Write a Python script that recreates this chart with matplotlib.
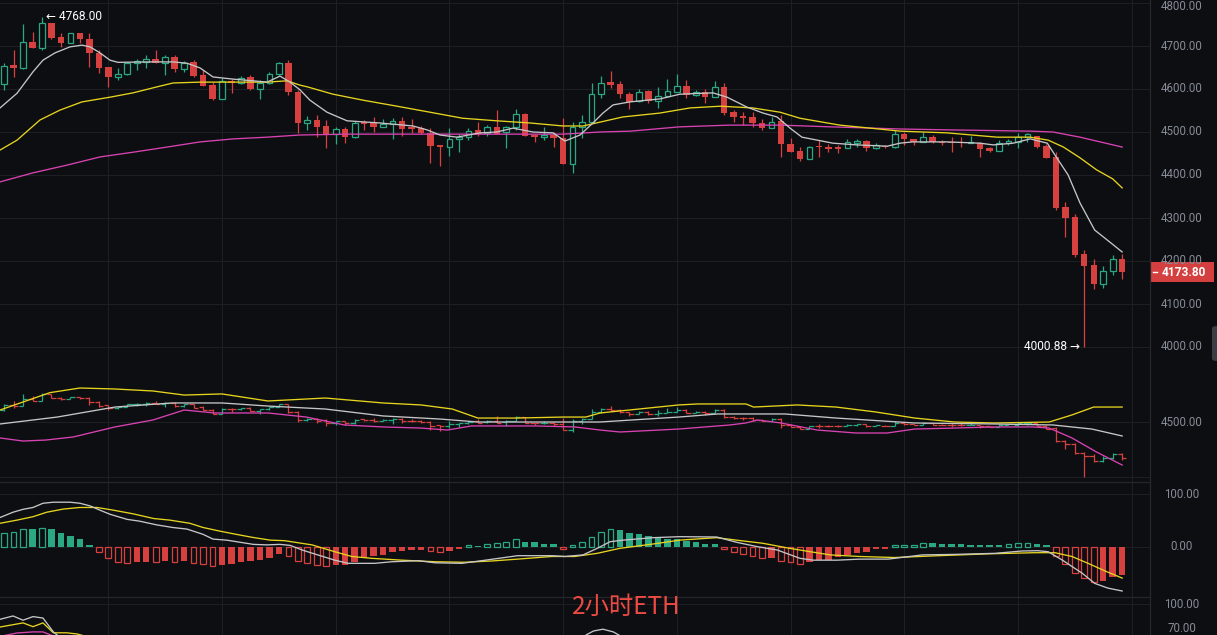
import matplotlib
matplotlib.use('Agg')
import matplotlib.pyplot as plt
from matplotlib.patches import Rectangle, FancyBboxPatch
from matplotlib.lines import Line2D

plt.rcParams['font.family'] = ['Roboto', 'DejaVu Sans']

# ---------------- data ----------------
opens = [4612, 4656, 4649, 4709, 4695, 4753, 4721, 4707, 4730, 4716,
         4684, 4651, 4628, 4635, 4660, 4663, 4670, 4660, 4674, 4647,
         4663, 4633, 4609, 4577, 4619, 4614, 4628, 4600, 4614, 4635,
         4660, 4593, 4521, 4528, 4514, 4495, 4507, 4488, 4523, 4521,
         4512, 4519, 4526, 4512, 4509, 4498, 4470, 4465, 4484, 4488,
         4505, 4498, 4512, 4500, 4512, 4542, 4493, 4488, 4493, 4486,
         4426, 4512, 4523, 4588, 4616, 4612, 4588, 4572, 4595, 4572,
         4584, 4593, 4607, 4586, 4593, 4581, 4605, 4546, 4537, 4535,
         4521, 4509, 4526, 4472, 4456, 4437, 4467, 4465, 4465, 4463,
         4474, 4479, 4463, 4467, 4465, 4495, 4484, 4477, 4488, 4477,
         4477, 4477, 4474, 4474, 4463, 4456, 4474, 4477, 4488, 4491,
         4467, 4442, 4326, 4302, 4216, 4191, 4146, 4177, 4205]
highs = [4660, 4691, 4751, 4733, 4768, 4753, 4730, 4731, 4730, 4730,
         4690, 4651, 4649, 4663, 4670, 4679, 4691, 4679, 4679, 4665,
         4667, 4644, 4616, 4625, 4623, 4630, 4633, 4621, 4640, 4663,
         4667, 4598, 4537, 4540, 4528, 4512, 4512, 4526, 4528, 4535,
         4530, 4533, 4535, 4530, 4514, 4509, 4470, 4509, 4495, 4509,
         4523, 4516, 4551, 4514, 4553, 4544, 4495, 4512, 4500, 4533,
         4523, 4540, 4614, 4630, 4642, 4619, 4593, 4600, 4598, 4605,
         4623, 4635, 4621, 4598, 4600, 4619, 4614, 4551, 4546, 4546,
         4530, 4535, 4540, 4486, 4465, 4467, 4481, 4472, 4470, 4484,
         4484, 4481, 4474, 4470, 4505, 4500, 4484, 4500, 4493, 4481,
         4488, 4488, 4491, 4477, 4465, 4481, 4484, 4497, 4497, 4491,
         4472, 4453, 4337, 4309, 4225, 4205, 4188, 4214, 4216]
lows = [4598, 4628, 4646, 4695, 4691, 4716, 4698, 4707, 4707, 4651,
        4637, 4605, 4621, 4633, 4644, 4649, 4660, 4632, 4640, 4640,
        4628, 4607, 4574, 4577, 4591, 4612, 4598, 4577, 4612, 4633,
        4586, 4498, 4505, 4488, 4463, 4472, 4474, 4486, 4505, 4500,
        4512, 4484, 4491, 4498, 4495, 4428, 4421, 4444, 4454, 4481,
        4491, 4491, 4495, 4463, 4505, 4491, 4477, 4481, 4465, 4426,
        4405, 4486, 4523, 4579, 4602, 4579, 4553, 4570, 4567, 4556,
        4581, 4593, 4579, 4584, 4567, 4581, 4540, 4523, 4516, 4512,
        4505, 4509, 4442, 4454, 4433, 4437, 4442, 4454, 4451, 4463,
        4465, 4456, 4460, 4463, 4463, 4470, 4470, 4477, 4474, 4470,
        4454, 4465, 4474, 4442, 4454, 4456, 4470, 4463, 4477, 4463,
        4440, 4319, 4256, 4209, 4000.88, 4135, 4137, 4167, 4158]
closes = [4653, 4649, 4709, 4695, 4753, 4719, 4707, 4730, 4716, 4684,
          4649, 4628, 4635, 4660, 4665, 4670, 4660, 4674, 4647, 4660,
          4630, 4607, 4577, 4619, 4614, 4626, 4600, 4614, 4635, 4660,
          4593, 4521, 4528, 4512, 4495, 4507, 4488, 4521, 4519, 4512,
          4519, 4526, 4507, 4507, 4498, 4467, 4465, 4484, 4488, 4502,
          4495, 4512, 4495, 4512, 4542, 4491, 4488, 4493, 4486, 4426,
          4512, 4523, 4588, 4614, 4609, 4588, 4570, 4593, 4572, 4584,
          4595, 4607, 4586, 4593, 4581, 4605, 4544, 4535, 4532, 4521,
          4509, 4523, 4472, 4454, 4437, 4465, 4465, 4460, 4460, 4477,
          4479, 4463, 4470, 4465, 4495, 4484, 4477, 4488, 4477, 4474,
          4474, 4474, 4477, 4460, 4456, 4474, 4479, 4488, 4495, 4465,
          4440, 4323, 4300, 4214, 4188, 4146, 4177, 4205, 4173.8]

# moving averages on the main chart (candle index, price)
ma_white_idx = [-0.43, 1.36, 3.05, 4.1, 5.37, 6.96, 8.22, 9.07, 10.12, 11.18, 12.02, 15.4, 17.83,
                19.3, 20.68, 22.05, 24.16, 26.27, 27.75, 29.12, 30.17, 31.23, 32.28, 34.08, 36.2,
                39.67, 43.16, 44.63, 46.0, 47.8, 50.23, 52.0, 53.7, 55.82, 57.93, 59.2, 60.78,
                62.15, 63.2, 64.27, 66.06, 69.23, 71.34, 74.82, 76.3, 78.4, 80.1, 81.57, 82.95,
                84.2, 87.48, 90.0, 93.2, 94.55, 95.9, 99.5, 103.0, 104.4, 106.5, 108.3, 110.1,
                111.1, 112.3, 113.55, 115.1, 116.7, 118.0]
ma_white_val = [4556, 4590, 4640, 4667, 4684, 4698, 4702, 4698, 4684, 4667, 4662, 4663, 4663,
                4660, 4649, 4628, 4623, 4619, 4616, 4630, 4616, 4598, 4574, 4546, 4526,
                4521, 4514, 4505, 4493, 4488, 4498, 4500, 4509, 4500, 4498, 4479, 4493,
                4521, 4544, 4563, 4570, 4577, 4588, 4591, 4581, 4558, 4544, 4535, 4509,
                4488, 4474, 4470, 4467, 4474, 4477, 4477, 4474, 4470, 4474, 4484, 4474,
                4440, 4400, 4335, 4272, 4244, 4221]
ma_yellow_idx = [-0.43, 1.36, 3.79, 5.9, 8.22, 11.18, 13.6, 16.14, 17.83, 20.68, 24.16, 27.75,
                 29.86, 31.23, 32.0, 34.7, 37.88, 41.47, 44.95, 48.4, 52.0, 55.5, 59.0, 61.1,
                 62.9, 65.3, 69.2, 72.4, 75.6, 79.0, 81.9, 84.0, 88.2, 91.4, 94.55, 99.5,
                 104.8, 108.3, 110.2, 111.8, 113.55, 115.3, 117.0, 118.0]
ma_yellow_val = [4458, 4481, 4528, 4551, 4570, 4581, 4591, 4605, 4614, 4616, 4616, 4616,
                 4619, 4609, 4605, 4588, 4574, 4560, 4546, 4532, 4526, 4521, 4514, 4514,
                 4523, 4535, 4544, 4556, 4560, 4556, 4546, 4532, 4516, 4509, 4502, 4498,
                 4488, 4488, 4481, 4465, 4440, 4412, 4391, 4370]
ma_mag_idx = [-0.43, 3.05, 6.64, 10.12, 13.6, 17.2, 20.7, 24.2, 27.75, 31.2, 36.2, 46.7, 53.7,
              59.0, 62.9, 66.1, 71.3, 76.6, 81.9, 87.2, 94.55, 99.5, 108.3, 110.7, 113.55, 118.0]
ma_mag_val = [4384, 4405, 4423, 4442, 4453, 4465, 4477, 4484, 4488, 4493, 4495, 4495, 4495,
              4495, 4500, 4502, 4512, 4516, 4516, 4512, 4507, 4505, 4502, 4500, 4488, 4465]

# band lines of the second pane
bb_up_idx = [-0.43, 4.84, 8.0, 11.7, 15.7, 19.0, 23.0, 27.85, 33.9, 40.0, 44.0, 47.3, 50.0,
             54.1, 59.0, 61.4, 62.9, 71.2, 73.2, 78.3, 79.1, 83.7, 87.8, 92.0, 96.1, 100.3,
             104.5, 110.3, 112.7, 115.0, 118.0]
bb_up_val = [4609, 4767, 4809, 4800, 4782, 4745, 4755, 4691, 4718, 4673, 4655, 4618, 4536,
             4536, 4545, 4545, 4582, 4655, 4664, 4664, 4636, 4655, 4636, 4591, 4536, 4500,
             4491, 4500, 4564, 4636, 4636]
bb_mid_idx = [-0.43, 5.6, 11.7, 17.7, 23.0, 27.85, 33.9, 40.0, 46.0, 50.0, 56.1, 62.9, 71.2,
              75.3, 82.4, 87.8, 96.1, 104.5, 110.7, 114.8, 118.0]
bb_mid_val = [4482, 4545, 4636, 4673, 4673, 4645, 4618, 4555, 4527, 4500, 4500, 4500, 4545,
              4573, 4573, 4536, 4491, 4482, 4473, 4436, 4373]
bb_low_idx = [-0.43, 2.0, 4.4, 7.3, 11.7, 15.7, 19.0, 22.2, 27.85, 31.9, 35.9, 40.0, 44.0,
              46.8, 49.3, 56.1, 60.2, 62.9, 65.0, 71.2, 76.6, 78.3, 79.5, 82.0, 85.8, 89.9,
              93.2, 96.1, 100.3, 104.5, 108.6, 110.3, 112.7, 115.3, 118.0]
bb_low_val = [4355, 4327, 4336, 4364, 4455, 4518, 4609, 4582, 4582, 4545, 4473, 4455, 4445,
              4427, 4464, 4464, 4455, 4427, 4409, 4436, 4473, 4491, 4518, 4491, 4427, 4400,
              4400, 4436, 4445, 4455, 4455, 4445, 4355, 4227, 4109]

# MACD
macd_hist = [26, 28, 34, 33.5, 37, 34, 26, 21, 15, 3,
             -10, -21, -28, -30, -29, -28, -28.5, -27, -28, -27,
             -30, -32, -37, -35, -32, -28, -27.5, -25, -21, -14,
             -17, -26, -31, -35, -37, -35, -34, -28, -20.5, -18,
             -15, -9, -7, -5.5, -5, -7, -9, -7, -3, 3,
             2.8, 6, 7, 9, 15, 10, 9, 6, 5, -4.5,
             4, 9, 19.5, 29, 34, 32, 26, 24, 21, 16.5,
             15, 14.8, 11, 9, 5, 4.8, -4.5, -10, -14, -18,
             -21, -20, -26, -29, -33, -29, -25, -24.5, -19.5, -15,
             -11, -9, -4.5, -3, 3, 4.5, 4.6, 7, 6.8, 6.5,
             5, 4.8, 4.6, 3.5, 3.3, 3.1, 5, 7, 7.2, 5,
             3, -18, -32, -49, -59, -66.5, -65, -57, -53]
dif_idx = [-0.43, 0.94, 2.0, 3.05, 4.1, 5.2, 6.96, 8.0, 9.07, 10.1, 11.2, 12.97, 14.3, 16.1,
           17.8, 19.3, 21.0, 22.05, 23.5, 24.9, 26.3, 27.75, 29.1, 30.2, 31.5, 33.1, 34.9,
           36.3, 39.1, 40.9, 43.7, 45.5, 48.3, 50.8, 54.2, 57.8, 59.2, 61.1, 62.6, 63.95,
           65.3, 68.5, 71.3, 75.2, 77.3, 79.5, 81.6, 84.0, 85.4, 87.9, 90.3, 93.3, 96.9,
           100.4, 104.6, 107.4, 109.1, 110.2, 111.7, 113.8, 115.1, 116.5, 118.0]
dif_val = [56, 66, 71.5, 75, 83, 85, 85, 83, 78, 70, 62, 52.5, 49, 42,
           37, 34, 24, 15, 13, 9, 5, 4, 5, 3, -6, -15, -25,
           -31, -31, -28, -26, -30, -31, -25, -16.5, -16.5, -18, -15, -2.5, 10,
           13, 17.7, 19.6, 19, 9, 0.6, -5.7, -21.5, -25, -25, -23, -23, -15,
           -14, -12, -7.6, -7, -9, -25, -50, -69, -78, -83.5]
dea_idx = [-0.43, 1.36, 3.05, 4.5, 6.25, 8.0, 9.8, 11.5, 13.6, 15.8, 17.5, 19.6, 21.0, 22.8,
           24.5, 26.3, 28.1, 29.6, 32.5, 34.9, 36.7, 38.8, 42.0, 45.5, 48.6, 51.5, 54.2,
           57.8, 60.2, 62.6, 65.0, 68.5, 71.3, 75.2, 77.3, 80.1, 82.9, 85.1, 87.2, 90.3,
           94.0, 98.6, 103.8, 108.8, 110.9, 112.7, 114.4, 116.2, 118.0]
dea_val = [45, 51, 57.5, 66, 72, 75, 75, 70, 63, 54, 51, 45, 37, 30,
           24, 18, 13, 12, 4, -9, -18, -21.5, -25, -28, -29, -26.5, -23,
           -18, -18, -12, -2.5, 5.7, 13, 17.7, 13, 7, -2.5, -9, -15, -18,
           -20, -16.5, -13, -10.8, -10.8, -18, -31, -45.5, -59]

# bottom pane (only small parts visible)
rsi_w_idx = [-0.43, 0.94, 2.0, 3.05, 4.1, 5.2, 6.0, 7.0]
rsi_w_val = [83, 86.7, 82, 86, 84.4, 69, 62, 58]
rsi_w2_idx = [60.5, 61.5, 62.2, 63.2, 64.3, 65.3]
rsi_w2_val = [60, 66, 70, 72, 69, 63]
rsi_y_idx = [-0.43, 2.0, 3.05, 4.1, 5.2, 6.6, 7.7, 9.0]
rsi_y_val = [74.4, 79, 74.8, 79, 68, 68, 66.7, 63]
rsi_m_idx = [-0.43, 1.36, 3.05, 4.1, 4.9, 6.0]
rsi_m_val = [64, 67.8, 69, 69, 65.6, 62]

price_ticks = [4800, 4700, 4600, 4500, 4400, 4300, 4200, 4100, 4000]
last_price = 4173.80
high_mark = 4768.00
low_mark = 4000.88
title_text = '2小时ETH'

# ---------------- style ----------------
W, H = 1217, 635
BG = '#0d0e11'
GRID = '#1d1f24'
GREEN = '#2aa783'
RED = '#d6403f'
WHITE_L = '#c6c6c8'
YELLOW = '#e6d41f'
MAGENTA = '#d843b2'
LABEL = '#858b97'
PLOT_R = 1150

fig = plt.figure(figsize=(W / 100, H / 100), dpi=100, facecolor=BG)


def fx(x):
    return x / W


def fy(y):
    return 1 - y / H


XLIM = (-0.433, (PLOT_R - 4.1) / 9.475)


def make_ax(top, bottom, ylim):
    ax = fig.add_axes([0, fy(bottom), fx(PLOT_R), (bottom - top) / H])
    ax.set_facecolor(BG)
    ax.set_xlim(*XLIM)
    ax.set_ylim(*ylim)
    for s in ax.spines.values():
        s.set_visible(False)
    ax.set_xticks([])
    ax.set_yticks([])
    for gx in range(11, 121, 12):
        ax.axvline(gx, color=GRID, lw=0.8, zorder=0)
    return ax


ax1 = make_ax(0, 368, (4800 - 365 / 0.43, 4800 + 3 / 0.43))
ax2 = make_ax(368, 482, (4500 - 60 / 0.11, 4500 + 54 / 0.11))
ax3 = make_ax(482, 597, (-50 / 0.527, 65 / 0.527))
ax4 = make_ax(597, 635, (100 - 31 / 0.9, 100 + 7 / 0.9))

for p in price_ticks:
    ax1.axhline(p, color=GRID, lw=0.8, zorder=0)
ax2.axhline(4500, color=GRID, lw=0.8, zorder=0)
ax2.axhline(4000, color=GRID, lw=0.8, zorder=0)
ax3.axhline(100, color=GRID, lw=0.8, zorder=0)
ax3.axhline(0, color=GRID, lw=0.8, zorder=0)
ax4.axhline(100, color=GRID, lw=0.8, zorder=0)

# ---------------- main candles ----------------
n = len(opens)
for i in range(n):
    o, h, l, c = opens[i], highs[i], lows[i], closes[i]
    if c > o:
        ax1.add_patch(Rectangle((i - 0.3, o), 0.6, c - o, fc=BG, ec=GREEN, lw=0.9, zorder=2))
        ax1.vlines(i, c, h, color=GREEN, lw=0.9, zorder=2)
        ax1.vlines(i, l, o, color=GREEN, lw=0.9, zorder=2)
    else:
        ax1.vlines(i, l, h, color=RED, lw=0.9, zorder=2)
        body = max(o - c, 2.0)
        ax1.add_patch(Rectangle((i - 0.34, c - (body - (o - c)) / 2), 0.68, body,
                                fc=RED, ec='none', zorder=2))

ax1.plot(ma_mag_idx, ma_mag_val, color=MAGENTA, lw=0.95, zorder=3)
ax1.plot(ma_yellow_idx, ma_yellow_val, color=YELLOW, lw=0.95, zorder=3)
ax1.plot(ma_white_idx, ma_white_val, color=WHITE_L, lw=0.95, zorder=3)

ax1.annotate('← ' + f'{high_mark:.2f}', xy=(4, high_mark), xytext=(4, 0),
             textcoords='offset pixels', ha='left', va='center', color='white',
             fontsize=8.6, family=['Roboto', 'DejaVu Sans'], zorder=5)
ax1.annotate(f'{low_mark:.2f}' + ' →', xy=(114, low_mark), xytext=(-4, 0),
             textcoords='offset pixels', ha='right', va='center', color='white',
             fontsize=8.6, family=['Roboto', 'DejaVu Sans'], zorder=5)

# ---------------- second pane: OHLC bars + bands ----------------
for i in range(n):
    o, h, l, c = opens[i], highs[i], lows[i], closes[i]
    col = GREEN if c > o else RED
    ax2.vlines(i, l, h, color=col, lw=0.9, zorder=2)
    ax2.hlines(o, i - 0.45, i, color=col, lw=0.9, zorder=2)
    ax2.hlines(c, i, i + 0.45, color=col, lw=0.9, zorder=2)
ax2.plot(bb_up_idx, bb_up_val, color=YELLOW, lw=0.95, zorder=3)
ax2.plot(bb_mid_idx, bb_mid_val, color=WHITE_L, lw=0.95, zorder=3)
ax2.plot(bb_low_idx, bb_low_val, color=MAGENTA, lw=0.95, zorder=3)

# ---------------- MACD pane ----------------
for i, v in enumerate(macd_hist):
    prev = macd_hist[i - 1] if i else 0
    col = GREEN if v >= 0 else RED
    hollow = (v >= 0 and v > prev) or (v < 0 and v < prev)
    if hollow:
        ax3.add_patch(Rectangle((i - 0.3, 0), 0.6, v, fc='none', ec=col, lw=0.9, zorder=2))
    else:
        ax3.add_patch(Rectangle((i - 0.34, 0), 0.68, v, fc=col, ec='none', zorder=2))
ax3.plot(dea_idx, dea_val, color=YELLOW, lw=0.95, zorder=3)
ax3.plot(dif_idx, dif_val, color=WHITE_L, lw=0.95, zorder=3)

# ---------------- bottom pane ----------------
ax4.plot(rsi_m_idx, rsi_m_val, color=MAGENTA, lw=0.95)
ax4.plot(rsi_y_idx, rsi_y_val, color=YELLOW, lw=0.95)
ax4.plot(rsi_w_idx, rsi_w_val, color=WHITE_L, lw=0.95)
ax4.plot(rsi_w2_idx, rsi_w2_val, color=WHITE_L, lw=0.95)

# ---------------- separators ----------------
for yy in (482, 597):
    fig.add_artist(Line2D([0, fx(PLOT_R)], [fy(yy), fy(yy)], color='#24262b', lw=0.9))
fig.add_artist(Line2D([fx(PLOT_R), fx(PLOT_R)], [0, 1], color='#26282d', lw=0.9))

# ---------------- right axis labels ----------------
LX = fx(1182)
for p in price_ticks:
    ypx = 3 + (4800 - p) * 0.43
    ypx = max(ypx, 7)
    fig.text(LX, fy(ypx), f'{p:.2f}', ha='center', va='center', color=LABEL, fontsize=8.3)
fig.text(LX, fy(422), '4500.00', ha='center', va='center', color=LABEL, fontsize=8.3)
fig.text(LX, fy(494), '100.00', ha='center', va='center', color=LABEL, fontsize=8.3)
fig.text(LX, fy(547), '0.00', ha='center', va='center', color=LABEL, fontsize=8.3)
fig.text(LX, fy(605), '100.00', ha='center', va='center', color=LABEL, fontsize=8.3)
fig.text(LX, fy(628), '70.00', ha='center', va='center', color=LABEL, fontsize=8.3)

# last price tag
ytag = 3 + (4800 - last_price) * 0.43
fig.add_artist(Rectangle((fx(1150), fy(ytag + 10)), fx(64), 20 / H, fc='#d4403f', ec='none'))
fig.add_artist(Line2D([fx(1153), fx(1157)], [fy(ytag), fy(ytag)], color='white', lw=1.0))
fig.text(fx(1184), fy(ytag), f'{last_price:.2f}', ha='center', va='center',
         color='white', fontsize=8.6, fontweight='bold')

# collapse tab
fig.add_artist(FancyBboxPatch((fx(1212), fy(361)), fx(8), 35 / H,
                              boxstyle='round,pad=0,rounding_size=0.004',
                              fc='#3a3d44', ec='none'))

# watermark-like title
fig.text(fx(626), fy(607), title_text, ha='center', va='center', color='#ee4a44',
         fontsize=17.5, family=['Noto Sans CJK SC', 'DejaVu Sans'])

fig.savefig('out.png', dpi=100, facecolor=BG)
